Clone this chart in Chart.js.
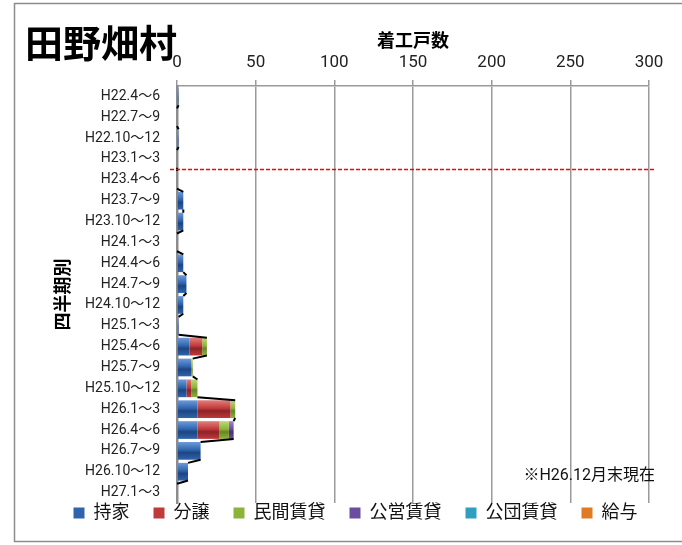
<!DOCTYPE html>
<html lang="ja">
<head>
<meta charset="utf-8">
<script src="https://cdn.jsdelivr.net/npm/chart.js@4.4.1/dist/chart.umd.min.js"></script>
<style>
  html, body { margin: 0; padding: 0; background: #fff; }
  canvas { display: block; }
</style>
</head>
<body>
<canvas id="chart" width="682" height="545"></canvas>
<script>
const quarters = [
    'H22.4～6', 'H22.7～9', 'H22.10～12', 'H23.1～3',
    'H23.4～6', 'H23.7～9', 'H23.10～12', 'H24.1～3',
    'H24.4～6', 'H24.7～9', 'H24.10～12', 'H25.1～3',
    'H25.4～6', 'H25.7～9', 'H25.10～12', 'H26.1～3',
    'H26.4～6', 'H26.7～9', 'H26.10～12', 'H27.1～3'
];
const seriesNames = ['持家', '分譲', '民間賃貸', '公営賃貸', '公団賃貸', '給与'];

const mochiie  = [1, 0, 1, 0, 0, 4, 4, 0, 4, 6, 4, 1, 8, 9, 6, 13, 13, 15, 7, 0];
const bunjo    = [0, 0, 0, 0, 0, 0, 0, 0, 0, 0, 0, 0, 8, 0, 3, 21, 14, 0, 0, 0];
const minkan   = [0, 0, 0, 0, 0, 0, 0, 0, 0, 0, 0, 0, 3, 1, 4, 3, 6, 0, 0, 0];
const koei     = [0, 0, 0, 0, 0, 0, 0, 0, 0, 0, 0, 0, 0, 0, 0, 0, 3, 0, 0, 0];
const kodan    = [0, 0, 0, 0, 0, 0, 0, 0, 0, 0, 0, 0, 0, 0, 0, 0, 0, 0, 0, 0];
const kyuyo    = [0, 0, 0, 0, 0, 0, 0, 0, 0, 0, 0, 0, 0, 0, 0, 0, 0, 0, 0, 0];

const xTicksMax = 300;
const xTicksStep = 50;
const markerAfter = 'H23.1～3';   // red dashed line below this quarter
const chartTitle = '田野畑村';
const noteText = '※H26.12月末現在';

const jpFont = "Roboto, 'Noto Sans CJK JP', sans-serif";
const barPct = 0.85;

// [light, base, dark]
const palette = [
    ['#6d9bd9', '#2f64ad', '#1d4582'],
    ['#e27f7c', '#c0393b', '#8c2325'],
    ['#bcd976', '#8cb43a', '#668524'],
    ['#a088c9', '#6b4c9f', '#4a3275'],
    ['#70c6de', '#2e9fbf', '#1e7590'],
    ['#f6aa62', '#e07b24', '#a55513']
];

function glossy(cols) {
    return (ctx) => {
        const chart = ctx.chart;
        const y = chart.scales && chart.scales.y;
        if (ctx.type !== 'data' || !y) return cols[1];
        const c = y.getPixelForValue(ctx.dataIndex);
        const h = (y.getPixelForValue(1) - y.getPixelForValue(0)) * barPct / 2;
        if (!isFinite(c) || !isFinite(h) || h <= 0) return cols[1];
        const g = chart.ctx.createLinearGradient(0, c - h, 0, c + h);
        g.addColorStop(0, cols[0]);
        g.addColorStop(0.45, cols[1]);
        g.addColorStop(0.6, cols[2]);
        g.addColorStop(1, cols[1]);
        return g;
    };
}

const seriesData = [mochiie, bunjo, minkan, koei, kodan, kyuyo];

const frame = {
    id: 'frame',
    beforeDraw(chart) {
        const ctx = chart.ctx;
        ctx.save();
        ctx.fillStyle = '#fff';
        ctx.fillRect(0, 0, chart.width, chart.height);
        ctx.strokeStyle = '#8c8c8c';
        ctx.lineWidth = 1.5;
        ctx.strokeRect(14.5, 3.5, 720, 538);
        ctx.restore();
    }
};

const seriesLines = {
    id: 'seriesLines',
    afterDatasetsDraw(chart) {
        const {ctx, scales: {x, y}} = chart;
        const half = (y.getPixelForValue(1) - y.getPixelForValue(0)) * barPct / 2;
        const totals = quarters.map((q, i) => chart.data.datasets.reduce((s, d) => s + d.data[i], 0));
        ctx.save();
        ctx.strokeStyle = '#000';
        ctx.lineWidth = 2;
        ctx.beginPath();
        for (let i = 0; i < totals.length - 1; i++) {
            ctx.moveTo(x.getPixelForValue(totals[i]), y.getPixelForValue(i) + half);
            ctx.lineTo(x.getPixelForValue(totals[i + 1]), y.getPixelForValue(i + 1) - half);
        }
        ctx.stroke();

        // dashed marker line
        const k = quarters.indexOf(markerAfter);
        const yy = Math.round((y.getPixelForValue(k) + y.getPixelForValue(k + 1)) / 2) + 0.5;
        ctx.strokeStyle = '#ff0000';
        ctx.lineWidth = 1.5;
        ctx.setLineDash([4, 2]);
        ctx.beginPath();
        ctx.moveTo(chart.chartArea.left - 7, yy);
        ctx.lineTo(chart.chartArea.right + 5, yy);
        ctx.stroke();
        ctx.restore();
    }
};

const texts = {
    id: 'texts',
    afterDraw(chart) {
        const ctx = chart.ctx;
        ctx.save();
        ctx.fillStyle = '#000';
        ctx.textBaseline = 'middle';
        ctx.font = "bold 38px 'Noto Sans CJK JP'";
        ctx.fillText(chartTitle, 25, 43);
        ctx.font = "16px " + jpFont;
        ctx.textAlign = 'right';
        ctx.fillStyle = '#111';
        ctx.fillText(noteText, 655, 476);
        ctx.restore();
    }
};

const legendPlace = {
    id: 'legendPlace',
    beforeLayout(chart) {
        const lg = chart.legend;
        if (lg && !lg._patched) {
            const fit = lg.fit;
            lg.fit = function () { fit.call(this); this.height = 20; };
            lg._patched = true;
        }
    },
    afterLayout(chart) {
        const lg = chart.legend;
        const pad = lg.options.labels.padding;
        const fs = lg.options.labels.font.size;
        lg.top = chart.chartArea.bottom + 10 - pad - fs / 2;
        lg.bottom = lg.top + pad + fs + 10;
        lg.height = lg.bottom - lg.top;
        lg.left += 31; lg.right += 31;
    }
};

new Chart(document.getElementById('chart'), {
    type: 'bar',
    data: {
        labels: quarters,
        datasets: seriesNames.map((name, i) => ({
            label: name,
            data: seriesData[i],
            backgroundColor: glossy(palette[i]),
            borderWidth: 0,
            barPercentage: barPct,
            categoryPercentage: 1
        }))
    },
    options: {
        indexAxis: 'y',
        responsive: false,
        animation: false,
        layout: { padding: { left: 0, right: 33, top: 0, bottom: 22 } },
        plugins: {
            legend: {
                position: 'bottom',
                labels: {
                    boxWidth: 11, boxHeight: 11, padding: 24,
                    color: '#111',
                    font: { size: 18, family: jpFont }
                }
            },
            tooltip: { enabled: false }
        },
        scales: {
            x: {
                position: 'top',
                stacked: true,
                min: 0,
                max: xTicksMax,
                ticks: { stepSize: xTicksStep, color: '#222', padding: 7, font: { size: 17, family: jpFont } },
                grid: { color: '#9a9a9a', lineWidth: 1.5, tickLength: 6, drawTicks: true },
                border: { color: '#9a9a9a', width: 1.5 },
                title: {
                    display: true, text: '着工戸数', color: '#000',
                    font: { size: 18, weight: 'bold', family: "'Noto Sans CJK JP'" },
                    padding: { top: 29, bottom: 0 }
                },
                afterFit(scale) { scale.height = 86; }
            },
            y: {
                stacked: true,
                grid: { display: false, drawTicks: false },
                border: { display: true, color: '#8c8c8c', width: 2.5 },
                ticks: { color: '#222', padding: 17, font: { size: 14, family: jpFont } },
                title: {
                    display: true, text: '四半期別', color: '#000',
                    font: { size: 18, weight: 'bold', family: "'Noto Sans CJK JP'" },
                    padding: { top: 51, bottom: 0 }
                },
                afterFit(scale) { scale.width = 177; }
            }
        }
    },
    plugins: [frame, seriesLines, texts, legendPlace]
});
</script>
</body>
</html>
